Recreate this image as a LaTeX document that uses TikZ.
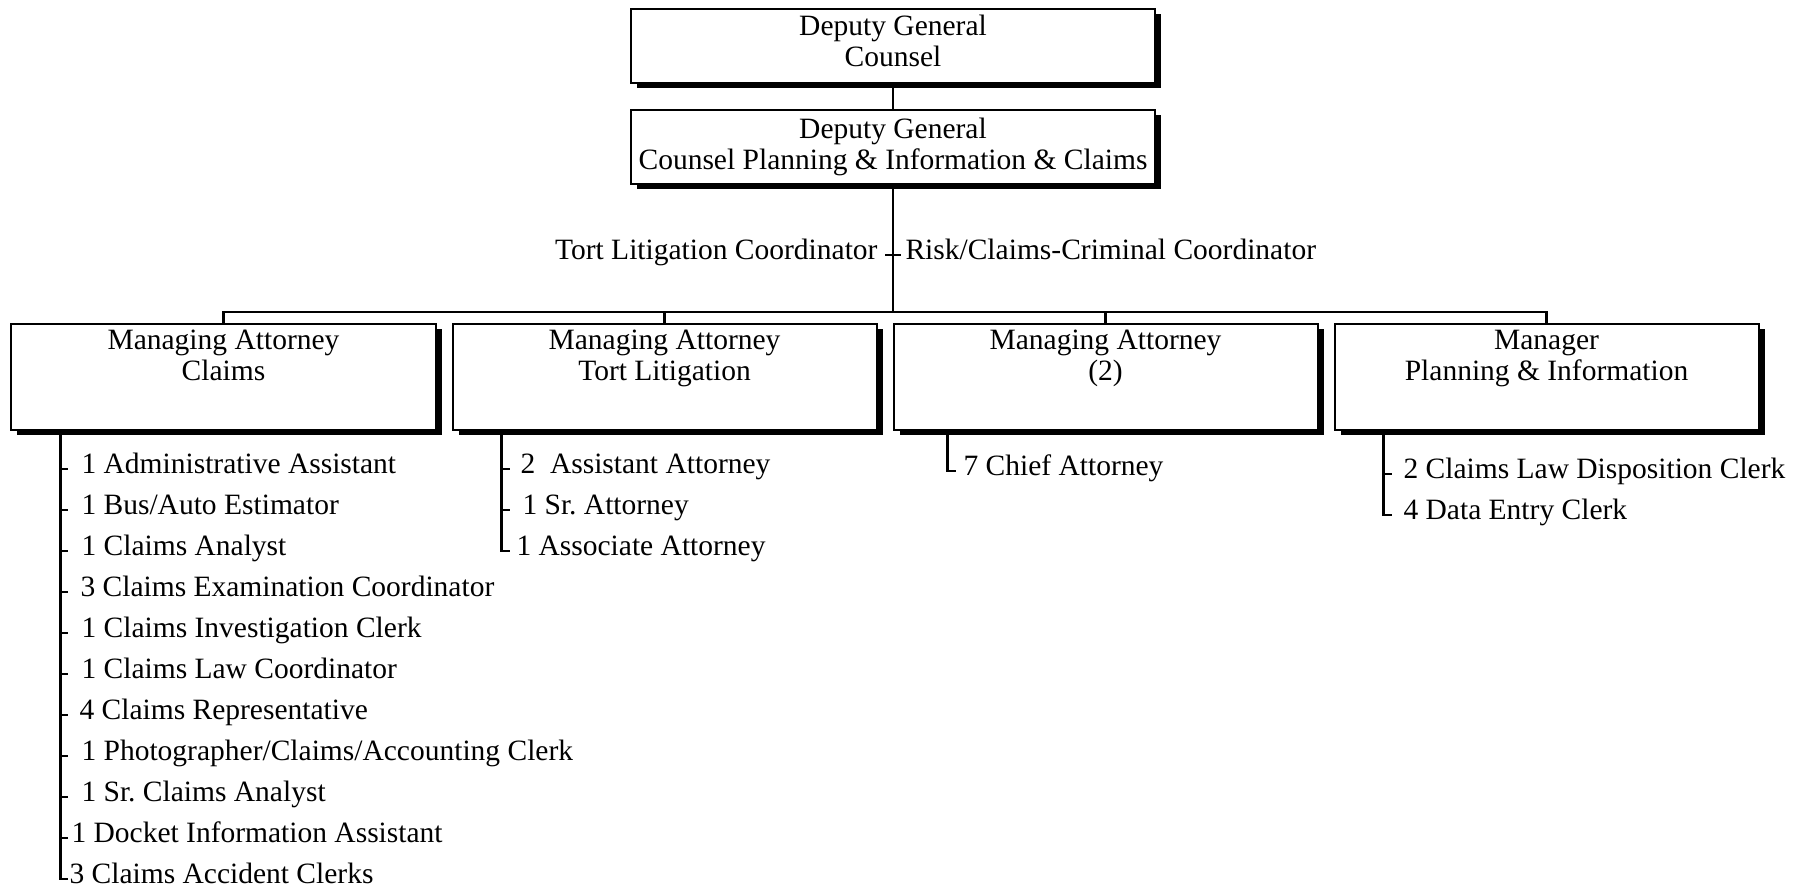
\documentclass[tikz,border=0pt]{standalone}
\usepackage{fontspec}
\setmainfont{Liberation Serif}
\usetikzlibrary{calc,positioning,shadows}
\newcommand{\rung}[2]
{   \draw[wire] let \p1=(#2.base west), \p2=(#1) in (\x2,{\y1+1.6pt}) -- ++(3.2pt,0);
}
\newcommand{\spine}[2]
{   \draw[wire] let \p1=(#2.base west), \p2=(#1) in (#1) -- (\x2,{\y1+1.6pt}) -- ++(3.2pt,0);
}
\newcommand{\orgfont}{\fontsize{11.8pt}{12.4pt}\selectfont}

\begin{document}
\begin{tikzpicture}[x=0.4pt, y=-0.4pt,
  wire/.style={line width=0.9pt},
  dropped/.style={drop shadow={shadow xshift=2.4pt, shadow yshift=-2pt, fill=black, opacity=1}},
  head/.style={draw, line width=0.8pt, fill=white, dropped, minimum width=209.6pt, minimum height=29.6pt, inner sep=0.5pt, align=center, font=\orgfont},
  office/.style={draw, line width=0.8pt, fill=white, dropped, minimum width=169.6pt, minimum height=42.4pt},
  title/.style={anchor=north, inner sep=0pt, yshift=-2.6pt, align=center, font=\orgfont},
  staff/.style={anchor=base west, inner sep=0pt, font=\orgfont}]

 \path[use as bounding box, fill=white] (0,0) rectangle (1803,889);

 % top of the chart
 \node[head, label={[title]north:Deputy General\\Counsel}] (dgc) at (893,46) {};
 \node[head, below=10pt of dgc] (dgcpic) {Deputy General\\Counsel Planning \& Information \& Claims};
 \draw[wire] (dgc) -- (dgcpic);

 \coordinate (bus) at (893,312);
 \coordinate (cross) at (893,255);
 \draw[wire] (dgcpic) -- (dgcpic |- bus);
 \draw[wire] ([xshift=-3.2pt]cross) -- ([xshift=3.2pt]cross);
 \node[staff, anchor=base east] (tortc) at (878,259) {Tort Litigation Coordinator};
 \node[staff] (riskc) at (905,259) {Risk/Claims-Criminal Coordinator};

 % managing attorneys
 \node[office, label={[title]north:Managing Attorney\\Claims}] (claims) at (223.5,377) {};
 \node[office, right=6pt of claims, label={[title]north:Managing Attorney\\Tort Litigation}] (tort) {};
 \node[office, right=6pt of tort, label={[title]north:Managing Attorney\\(2)}] (atty) {};
 \node[office, right=6pt of atty, label={[title]north:Manager\\Planning \& Information}] (plan) {};
 \draw[wire] (claims) -- (claims |- bus) -- (plan |- bus) -- (plan);
 \draw[wire] (tort) -- (tort |- bus);
 \draw[wire] (atty) -- (atty |- bus);

 % claims staff
 \coordinate (clroot) at ([xshift=20pt]claims.south west);
 \node[staff] (cl1) at (81,473) {1 Administrative Assistant};
 \node[staff] (cl2) at (81,514) {1 Bus/Auto Estimator};
 \node[staff] (cl3) at (81,555) {1 Claims Analyst};
 \node[staff] (cl4) at (80,596) {3 Claims Examination Coordinator};
 \node[staff] (cl5) at (81,637) {1 Claims Investigation Clerk};
 \node[staff] (cl6) at (81,678) {1 Claims Law Coordinator};
 \node[staff] (cl7) at (79,719) {4 Claims Representative};
 \node[staff] (cl8) at (81,760) {1 Photographer/Claims/Accounting Clerk};
 \node[staff] (cl9) at (81,801) {1 Sr.\ Claims Analyst};
 \node[staff] (cl10) at (71,842) {1 Docket Information Assistant};
 \node[staff] (cl11) at (69,883) {3 Claims Accident Clerks};
 \spine{clroot}{cl11}
 \rung{clroot}{cl1} \rung{clroot}{cl2} \rung{clroot}{cl3} \rung{clroot}{cl4} \rung{clroot}{cl5}
 \rung{clroot}{cl6} \rung{clroot}{cl7} \rung{clroot}{cl8} \rung{clroot}{cl9} \rung{clroot}{cl10}

 % tort litigation staff
 \coordinate (tlroot) at ([xshift=20pt]tort.south west);
 \node[staff] (tl1) at (520,473) {2\ \ Assistant Attorney};
 \node[staff] (tl2) at (522,514) {1 Sr.\ Attorney};
 \node[staff] (tl3) at (516,555) {1 Associate Attorney};
 \spine{tlroot}{tl3}
 \rung{tlroot}{tl1} \rung{tlroot}{tl2}

 % attorneys
 \coordinate (atroot) at ([xshift=22pt]atty.south west);
 \node[staff] (at1) at (963,475) {7 Chief Attorney};
 \spine{atroot}{at1}

 % planning and information staff
 \coordinate (plroot) at ([xshift=20pt]plan.south west);
 \node[staff] (pl1) at (1403,478) {2 Claims Law Disposition Clerk};
 \node[staff] (pl2) at (1403,519) {4 Data Entry Clerk};
 \spine{plroot}{pl2}
 \rung{plroot}{pl1}

\end{tikzpicture}
\end{document}
